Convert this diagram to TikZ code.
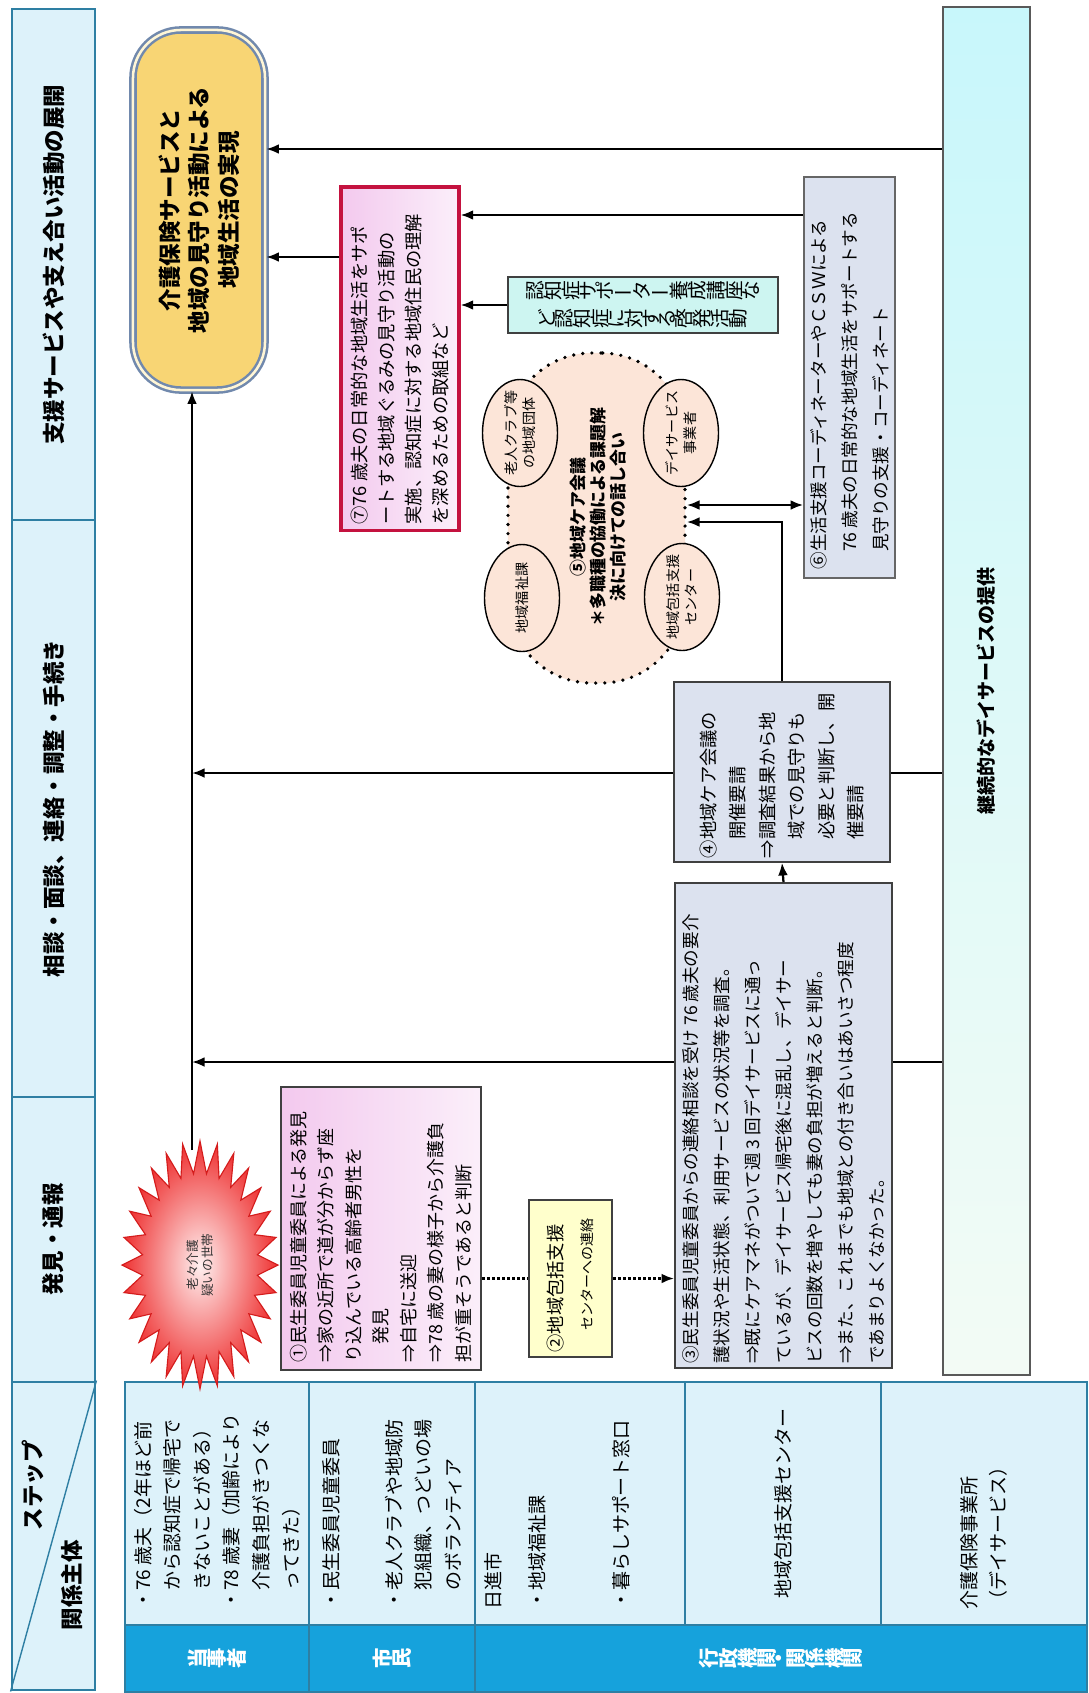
\documentclass[tikz,border=0pt]{standalone}
\usepackage{fontspec}
\setmainfont{Noto Sans CJK JP}
\usepackage{graphicx}
\usetikzlibrary{arrows.meta,shapes.geometric}

\definecolor{hdrline}{HTML}{2E7FA3}
\definecolor{hdrfill}{HTML}{DDF2FA}
\definecolor{bandblue}{HTML}{16A2DC}
\definecolor{cardblue}{HTML}{DCE2EF}
\definecolor{pinkcard}{HTML}{F3C9EE}
\definecolor{pinklite}{HTML}{FBEFFA}
\definecolor{redline}{HTML}{C4123F}
\definecolor{yellowcard}{HTML}{FFFFCC}
\definecolor{greencard}{HTML}{CDF5F1}
\definecolor{cloudfill}{HTML}{FCE5D8}
\definecolor{goalgold}{HTML}{F8D574}
\definecolor{goallite}{HTML}{FFF6D6}
\definecolor{goalline}{HTML}{7189AD}
\definecolor{stripcyan}{HTML}{C8F7FB}
\definecolor{striplite}{HTML}{F3FBF5}
\definecolor{starlite}{HTML}{FFF0F0}
\definecolor{starred}{HTML}{EE3030}
\definecolor{starline}{HTML}{D41C1C}

\newcommand{\fsz}[2]{\fontsize{#1}{#2}\selectfont}
\newcommand{\sidel}[2]{\rotatebox{90}{\parbox{#1}{\raggedright #2}}}
\newcommand{\sidec}[2]{\rotatebox{90}{\parbox{#1}{\centering #2}}}
\newcommand{\tatechar}[1]{\ifx#1ーー\else\rotatebox{90}{#1}\fi}
\def\tatechars#1{\ifx#1\relax\else\tatechar{#1}\expandafter\tatechars\fi}

\begin{document}
\begin{tikzpicture}[x=0.025cm, y=-0.025cm, >={Latex[length=9pt,width=7pt]},
	hdr/.style={draw=hdrline, line width=2pt, fill=hdrfill, minimum width=2.075cm, inner sep=0pt, font=\fsz{16pt}{20pt}\bfseries},
	cell/.style={draw=hdrline, line width=1.2pt, fill=hdrfill, minimum height=6.075cm, inner sep=0pt, font=\fsz{13.5pt}{21pt}},
	band/.style={draw=hdrline, line width=1.2pt, fill=bandblue, text=white, minimum height=1.675cm, inner sep=0pt, font=\fsz{14.5pt}{18pt}\bfseries},
	card/.style={draw=black!75, line width=1.1pt, inner sep=0pt},
	goal/.style={draw=goalline, line width=1.8pt, double=goallite, double distance=1.8pt, rounded corners=1.2cm, left color=goalgold, middle color=goallite, right color=goalgold, minimum width=3.3cm, minimum height=9cm, inner sep=0pt, font=\fsz{16pt}{21pt}\bfseries},
	stripbox/.style={draw=black!65, line width=1.2pt, top color=stripcyan, bottom color=striplite, minimum width=2.175cm, minimum height=34.2cm, inner sep=0pt, font=\fsz{13.5pt}{18pt}\bfseries},
	flow/.style={line width=1.6pt, ->},
	dotflow/.style={line width=2.2pt, dash pattern=on 2pt off 1.6pt},
	blob/.style={draw=black, line width=2.6pt, dash pattern=on 0pt off 6.5pt, line cap=round, fill=cloudfill, rounded corners=2.1cm, inner sep=0pt},
	bubble/.style={ellipse, draw=black, line width=1pt, fill=cloudfill, minimum width=1.875cm, minimum height=2.675cm, inner sep=0pt}]

	\fill[white] (0,0) rectangle (1089,1693);
	\useasboundingbox (0,0) rectangle (1089,1693);

	% step headers
	\node[hdr, minimum height=12.775cm] (hsupport) at (53.5,264.5) {\rotatebox{90}{支援サービスや支え合い活動の展開}};
	\node[hdr, minimum height=14.425cm] (hconsult) at (53.5,808.5) {\rotatebox{90}{相談・面談、連絡・調整・手続き}};
	\node[hdr, minimum height=7.125cm] (hfind) at (53.5,1239.5) {\rotatebox{90}{発見・通報}};
	\node[hdr, minimum height=7.7cm] (hstep) at (53.5,1536) {};
	\draw[hdrline, line width=1pt] (hstep.south west) -- (hstep.north east);
	\node[font=\fsz{16pt}{20pt}\bfseries] (tstep) at (33,1485) {\rotatebox{90}{ステップ}};
	\node[font=\fsz{16pt}{20pt}\bfseries] (tactor) at (72,1585) {\rotatebox{90}{関係主体}};

	% actors
	\node[cell, minimum width=4.6cm] (c1) at (217,1503.5) {\sidel{5.3cm}{・76~歳夫（2年ほど前\\　から認知症で帰宅で\\　きないことがある）\\・78~歳妻（加齢により\\　介護負担がきつくな\\　ってきた）}};
	\node[cell, minimum width=4.15cm] (c2) at (392,1503.5) {\sidel{5.3cm}{・民生委員児童委員\\[24pt]・老人クラブや地域防\\　犯組織、つどいの場\\　のボランティア}};
	\node[cell, minimum width=5.25cm] (c3) at (580,1503.5) {\sidel{5.3cm}{日進市\\[10pt]・地域福祉課\\[39pt]・暮らしサポート窓口\\[12pt]\mbox{}}};
	\node[cell, minimum width=4.9cm] (c4) at (783,1503.5) {\sidec{5.3cm}{地域包括支援センター}};
	\node[cell, minimum width=5.15cm] (c5) at (984,1503.5) {\sidel{5.3cm}{介護保険事業所\\（デイサービス）}};
	\node[band, minimum width=4.6cm] (b1) at (217,1658.5) {\tatechars 当事者\relax};
	\node[band, minimum width=4.15cm] (b2) at (392,1658.5) {\tatechars 市民\relax};
	\node[band, minimum width=15.3cm] (b3) at (781,1658.5) {\tatechars 行政機関・関係機関\relax};

	% right strip and goal
	\node[stripbox] (strip) at (986.5,691) {\rotatebox{90}{継続的なデイサービスの提供}};
	\node[goal] (goal) at (199,210) {\sidec{8.6cm}{介護保険サービスと\\地域の見守り活動による\\地域生活の実現}};

	\coordinate (lvlgoal) at (0,149);
	\coordinate (lvlred) at (0,257);
	\coordinate (lvlcsw) at (0,215);
	\coordinate (lvlmeet) at (0,505);
	\coordinate (lvlcall) at (0,522);
	\coordinate (lvlmid) at (0,773);
	\coordinate (lvllow) at (0,1062);
	\coordinate (trunk) at (192,1150);

	\draw[flow] (strip.west |- lvlgoal) -- (goal.east |- lvlgoal);
	\draw[flow] (strip.west |- lvlmid) -- (trunk |- lvlmid);	%runs behind card 4
	\draw[flow] (strip.west |- lvllow) -- (trunk |- lvllow);	%runs behind card 3
	\draw[flow] (trunk) -- (trunk |- goal.south);

	% starburst
	\begin{scope}[shift={(200,1265)}]
	\shadedraw[inner color=starlite, outer color=starred, draw=starline, line width=0.8pt]
		(0:78 and 124) \foreach \k [evaluate=\k as \rr using {mod(\k,2)==0 ? 1 : 0.74}] in {1,...,55}{ -- ({\k/56*360}:{78*\rr} and {124*\rr}) } -- cycle;
	\end{scope}
	\node[font=\fsz{9pt}{11pt}, text=black!80] (star) at (200,1265) {\sidec{2cm}{老々介護\\疑いの世帯}};

	% cards
	\node[card, left color=pinkcard, right color=pinklite, minimum width=5cm, minimum height=7.075cm, font=\fsz{12.8pt}{19.5pt}] (find) at (381,1228.5) {\sidel{6.7cm}{①民生委員児童委員による発見\\⇒家の近所で道が分からず座\\り込んでいる高齢者男性を\\　発見\\⇒自宅に送迎\\⇒78~歳の妻の様子から介護負\\担が重そうであると判断}};
	\node[card, fill=yellowcard, minimum width=2.075cm, minimum height=3.925cm, font=\fsz{13pt}{21pt}] (notify) at (570.5,1278.5) {\sidel{3.7cm}{②地域包括支援\\\hspace*{1.2em}{\fsz{10pt}{21pt}センターへの連絡}}};
	\node[card, fill=cardblue, minimum width=5.425cm, minimum height=12.125cm, font=\fsz{12.5pt}{22pt}] (survey) at (783.5,1125.5) {\sidel{11.9cm}{③民生委員児童委員からの連絡相談を受け~76~歳夫の要介\\護状況や生活状態、利用サービスの状況等を調査。\\⇒既にケアマネがついて週~3~回デイサービスに通っ\\ているが、デイサービス帰宅後に混乱し、デイサー\\ビスの回数を増やしても妻の負担が増えると判断。\\⇒また、これまでも地域との付き合いはあいさつ程度\\であまりよくなかった。}};
	\node[card, fill=cardblue, minimum width=5.4cm, minimum height=4.5cm, font=\fsz{13pt}{21pt}] (request) at (782,772) {\sidel{4.3cm}{④地域ケア会議の\\　開催要請\\⇒調査結果から地\\　域での見守りも\\　必要と判断し、開\\　催要請}};

	% care meeting
	\node[blob, minimum width=4.425cm, minimum height=8.25cm] (cloud) at (596.5,518) {};
	\node[bubble] (eclub) at (520,433) {};
	\node[bubble] (edays) at (681,433) {};
	\node[bubble] (ewelf) at (522,598) {};
	\node[bubble] (ecent) at (682,597) {};
	\node[font=\fsz{10pt}{13pt}] (tclub) at (eclub) {\sidec{2.5cm}{老人クラブ等\\の地域団体}};
	\node[font=\fsz{10pt}{13pt}] (tdays) at (edays) {\sidec{2.5cm}{デイサービス\\事業者}};
	\node[font=\fsz{10pt}{13pt}] (twelf) at (ewelf) {\sidec{2.5cm}{地域福祉課}};
	\node[font=\fsz{10pt}{13pt}] (tcent) at (ecent) {\sidec{2.5cm}{地域包括支援\\センター}};
	\node[font=\fsz{12pt}{14.5pt}\bfseries] (tcloud) at (598,517) {\sidec{6cm}{⑤地域ケア会議\\＊多職種の協働による課題解\\決に向けての話し合い}};

	\node[card, fill=cardblue, draw=black!60, minimum width=2.275cm, minimum height=10.025cm, font=\fsz{12.5pt}{22pt}] (csw) at (849.5,377.5) {\sidel{9.6cm}{⑥生活支援コーディネーターやＣＳＷによる\\　76~歳夫の日常的な地域生活をサポートする\\　見守りの支援・コーディネート}};
	\node[card, draw=redline, line width=2.2pt, left color=pinkcard, right color=pinklite, minimum width=2.95cm, minimum height=8.575cm, font=\fsz{13pt}{19pt}] (watch) at (400,358.5) {\sidel{8.3cm}{⑦76~歳夫の日常的な地域生活をサポ\\ートする地域ぐるみの見守り活動の\\実施、認知症に対する地域住民の理解\\を深めるための取組など}};
	\node[card, fill=greencard, minimum width=6.75cm, minimum height=1.4cm, font=\fsz{14pt}{20pt}, align=center] (aware) at (643,305) {\tatechars 認知症サポーター養成講座な\relax\\\tatechars ど認知症に対する啓発活動\relax};

	% connectors
	\draw[dotflow] (find.east |- notify.west) -- (notify.west);
	\draw[dotflow, ->] (notify.east) -- (notify.east -| survey.west);
	\draw[flow] (survey.north) -- (request.south);
	\draw[flow] (request.north) |- (cloud.east |- lvlcall);
	\draw[line width=1.6pt, <->] (cloud.east |- lvlmeet) -- (csw.west |- lvlmeet);
	\draw[flow] (csw.west |- lvlcsw) -- (watch.east |- lvlcsw);
	\draw[flow] (aware.west) -- (aware.west -| watch.east);
	\draw[flow] (watch.west |- lvlred) -- (goal.east |- lvlred);
\end{tikzpicture}
\end{document}
